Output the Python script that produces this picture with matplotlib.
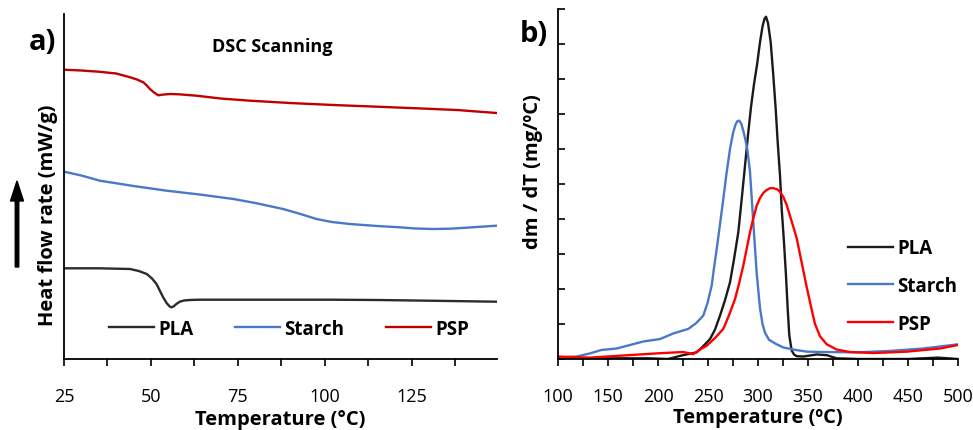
import matplotlib
matplotlib.use("Agg")
import matplotlib.pyplot as plt
from matplotlib.ticker import MultipleLocator, FixedLocator

plt.rcParams['font.family'] = ['Open Sans', 'DejaVu Sans']

# ---------------- DSC data (arbitrary heat-flow units) ----------------
dsc_pla_T = [25, 35, 44, 46.5, 48.8, 50.3, 51.6, 52.6, 53.5, 54.5, 55.3, 55.8, 56.5, 57.3, 58.3, 59.5, 61.2, 64, 75, 90, 102, 115, 130, 149.4]
dsc_pla_y = [90.7, 90.7, 90, 88, 85, 80.5, 75, 68, 61.7, 56, 52.8, 51.7, 52.5, 55, 57.3, 58.5, 59, 59.3, 59.3, 59.3, 59.3, 59, 58.3, 57.3]

dsc_starch_T = [25, 30, 35.3, 45, 54.5, 64, 73.7, 80, 88, 93, 97.6, 102, 107.2, 115, 121.6, 126, 131.1, 136, 140.7, 145, 149.4]
dsc_starch_y = [187.3, 183.5, 178.3, 173, 168.3, 164.5, 160, 156, 150, 145, 140, 137, 135, 133, 131.7, 130.5, 130, 130.3, 131.3, 132.3, 133.3]

dsc_psp_T = [25, 30, 35, 40, 44, 46, 47.8, 48.8, 49.7, 50.9, 52.1, 53.2, 55.5, 58, 63.1, 70, 78.5, 90, 102.3, 115, 126.4, 138, 149.4]
dsc_psp_y = [289.3, 288.5, 287.3, 285.5, 281.7, 279.5, 276.7, 273.5, 270, 266.5, 263.7, 264.3, 265, 264.7, 263.3, 260.5, 258.3, 256, 254, 252.3, 250.7, 249, 246]

# ---------------- DTG data (mg/ºC) ----------------
dtg_pla_T = [100, 150, 190, 210, 225, 238.7, 245, 252, 257, 262, 267, 272, 276, 280.3, 283.7, 287, 290, 293, 296, 299, 302, 304.5, 306.5, 308, 310, 312.7, 315.3, 317.7, 319.7, 322, 323.7, 326, 328, 329.7, 331.3, 333.7, 336, 338.7, 345.3, 358.7, 368.7, 378.7, 400, 450, 480, 500]
dtg_pla_y = [0.02, 0.02, 0.02, 0.0, 0.11, 0.19, 0.36, 0.57, 0.84, 1.24, 1.68, 2.19, 2.85, 3.62, 4.57, 5.52, 6.4, 7.2, 7.85, 8.4, 9.05, 9.5, 9.72, 9.78, 9.6, 9.05, 8.1, 7.14, 6.19, 5.24, 4.29, 3.33, 2.38, 1.43, 0.67, 0.24, 0.13, 0.08, 0.07, 0.13, 0.11, 0.02, 0.0, 0.0, 0.04, 0.0]

dtg_starch_T = [100, 118.7, 132, 143.7, 158.7, 172, 185.3, 202, 215.3, 230.3, 238, 245.3, 249.5, 253.7, 256, 258.7, 262, 265.3, 268.5, 272, 275, 277.5, 279.5, 281.3, 283.3, 285.5, 287.5, 289.3, 292, 295.3, 298.7, 302, 304.5, 307, 311, 318, 325.3, 335.3, 348.7, 365.3, 398.7, 432, 465.3, 500]
dtg_starch_y = [0.04, 0.07, 0.16, 0.26, 0.3, 0.4, 0.5, 0.57, 0.73, 0.86, 1.02, 1.24, 1.6, 2.1, 2.6, 3.14, 3.85, 4.57, 5.3, 6.0, 6.45, 6.7, 6.8, 6.81, 6.72, 6.5, 6.25, 6.0, 5.35, 3.9, 2.45, 1.45, 1.0, 0.75, 0.55, 0.43, 0.33, 0.27, 0.21, 0.2, 0.19, 0.23, 0.3, 0.42]

dtg_psp_T = [100, 132, 165.3, 198.7, 225, 235.3, 242, 248.7, 257, 265.3, 271, 277, 281, 285.3, 288.7, 292, 295.3, 298.7, 302, 305.5, 308.7, 312, 315.3, 319, 322, 325.5, 328.7, 333.5, 338.7, 343.7, 348.7, 353, 357, 362, 368.7, 378.7, 392, 415.3, 448.7, 482, 500]
dtg_psp_y = [0.07, 0.04, 0.1, 0.16, 0.2, 0.14, 0.27, 0.38, 0.6, 0.86, 1.25, 1.71, 2.15, 2.67, 3.15, 3.62, 4.02, 4.38, 4.6, 4.75, 4.83, 4.88, 4.88, 4.85, 4.78, 4.62, 4.4, 3.95, 3.45, 2.75, 2.05, 1.5, 1.0, 0.65, 0.42, 0.27, 0.2, 0.17, 0.21, 0.3, 0.4]

series_names = ['PLA', 'Starch', 'PSP']
dsc_colors = ['#2b2b2b', '#4a78c8', '#c00000']
dtg_colors = ['#1a1a1a', '#4a78c8', '#ff0000']

left_xticks = [25, 50, 75, 100, 125]
right_xticks = [100, 150, 200, 250, 300, 350, 400, 450, 500]

fig = plt.figure(figsize=(9.73, 4.31), dpi=100)
lw = 1.7
bold = {'weight': 'bold', 'size': 13.5}

# ---------------- panel a ----------------
ax1 = fig.add_axes([64/973, 1-360/431, 433/973, 345/431])
for T, y, c, n in zip([dsc_pla_T, dsc_starch_T, dsc_psp_T], [dsc_pla_y, dsc_starch_y, dsc_psp_y], dsc_colors, series_names):
    ax1.plot(T, y, color=c, lw=lw, label=n)
ax1.set_xlim(25, 149.5)
ax1.set_ylim(0, 345)
for s in ['top', 'right']:
    ax1.spines[s].set_visible(False)
for s in ['left', 'bottom']:
    ax1.spines[s].set_linewidth(1.3)
    ax1.spines[s].set_color('black')
ax1.set_yticks([])
ax1.xaxis.set_major_locator(FixedLocator(left_xticks))
ax1.xaxis.set_minor_locator(MultipleLocator(12.5))
ax1.tick_params(axis='x', which='both', direction='out', length=5, width=1.2, labelsize=13, pad=15)
ax1.set_xlabel('Temperature (°C)', fontsize=14.5, fontweight='bold')
ax1.xaxis.set_label_coords(0.5, -(410-360)/345)
ax1.set_ylabel('Heat flow rate (mW/g)', fontsize=14.5, fontweight='bold')
ax1.yaxis.set_label_coords((58-64)/433, 0.42)
ax1.legend(loc='center', bbox_to_anchor=((289-64)/433, (360-330)/345), ncol=3, frameon=False,
           prop=bold, handlelength=2.4, handletextpad=0.25, columnspacing=2.2)
ax1.text((272-64)/433, (360-47)/345, 'DSC Scanning', transform=ax1.transAxes, fontsize=13, fontweight='bold', ha='center', va='center')
fig.text(42/973, 1-42/431, 'a)', fontsize=21, fontweight='bold', ha='center', va='center')
fig.patches.append(matplotlib.patches.FancyArrow(17/973, 1-268/431, 0, 66/431, width=3.5/973,
                   head_width=13/973, head_length=20/431, length_includes_head=False,
                   transform=fig.transFigure, color='black'))

# ---------------- panel b ----------------
ax2 = fig.add_axes([558/973, 1-360/431, 400/973, 350/431])
for T, y, c, n in zip([dtg_pla_T, dtg_starch_T, dtg_psp_T], [dtg_pla_y, dtg_starch_y, dtg_psp_y], dtg_colors, series_names):
    ax2.plot(T, y, color=c, lw=lw, label=n)
ax2.set_xlim(100, 500)
ax2.set_ylim(0, 10)
for s in ['top', 'right']:
    ax2.spines[s].set_visible(False)
for s in ['left', 'bottom']:
    ax2.spines[s].set_linewidth(1.3)
    ax2.spines[s].set_color('black')
ax2.yaxis.set_major_locator(MultipleLocator(1))
ax2.tick_params(axis='y', which='both', direction='in', length=5, width=1.2, labelleft=False)
ax2.xaxis.set_major_locator(FixedLocator(right_xticks))
ax2.xaxis.set_minor_locator(MultipleLocator(25))
ax2.tick_params(axis='x', which='both', direction='out', length=5, width=1.2, labelsize=13, pad=15)
ax2.set_xlabel('Temperature (ºC)', fontsize=14.5, fontweight='bold')
ax2.xaxis.set_label_coords(0.5, -(408-360)/350)
ax2.set_ylabel('dm / dT (mg/ºC)', fontsize=14.5, fontweight='bold')
ax2.yaxis.set_label_coords((543-558)/400, 0.537)
ax2.legend(loc='center left', bbox_to_anchor=((847-558)/400 - 0.04, (360-287)/350), frameon=False,
           prop=bold, handlelength=2.4, handletextpad=0.25, labelspacing=0.95)
fig.text(534/973, 1-35/431, 'b)', fontsize=21, fontweight='bold', ha='center', va='center')

fig.savefig('out.png', dpi=100)
